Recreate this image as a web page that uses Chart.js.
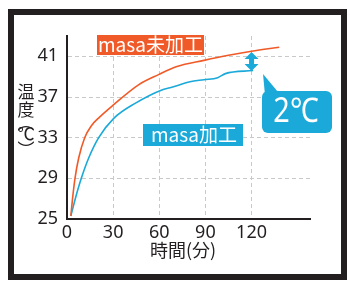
<!DOCTYPE html>
<html>
<head>
<meta charset="utf-8">
<script src="https://cdn.jsdelivr.net/npm/chart.js@4"></script>
<style>
  html, body { margin: 0; padding: 0; background: #fff; }
  #wrap { width: 350px; height: 282px; }
</style>
</head>
<body>
<div id="wrap"><canvas id="tempChart"></canvas></div>
<script>
// 時間(分) と 温度(℃)
const timeRaw = [2.5, 3.6, 5.2, 7.6, 11.5, 16, 21, 30, 46.5, 59.5, 71.5, 89, 105, 120, 138];
const tempRaw = [25.3, 27, 29, 31, 33, 34.2, 35, 36.2, 38.2, 39.2, 40, 40.6, 41.1, 41.5, 41.9];
const timeProc = [2.5, 5.4, 9.3, 14.1, 20.6, 30.4, 44, 61.7, 67, 80, 89, 98, 103, 121];
const tempProc = [25.3, 27, 29, 31, 33, 34.9, 36.35, 37.7, 37.9, 38.5, 38.7, 38.9, 39.3, 39.6];

const xTickValues = [0, 30, 60, 90, 120];
const yTickValues = [25, 27, 29, 31, 33, 35, 37, 39, 41];
const yTickLabels = [25, 29, 33, 37, 41];

const labelRaw = 'masa未加工';
const labelProc = 'masa加工';
const diffText = '2℃';
const xTitle = '時間(分)';
const yTitle = ['温', '度', '︵', '℃', '︶'];

const ORANGE = '#f05a28';
const BLUE = '#1aa9d8';
const INK = '#231f20';
const JP = "'Noto Sans CJK JP', 'Noto Sans', sans-serif";
const NUM = "'Noto Sans', 'Open Sans', sans-serif";

function toPoints(xs, ys) {
  return xs.map((x, i) => ({ x: x, y: ys[i] }));
}

const decorations = {
  id: 'decorations',
  beforeDraw(chart) {
    const ctx = chart.ctx;
    ctx.save();
    ctx.fillStyle = '#fff';
    ctx.fillRect(0, 0, chart.width, chart.height);
    // 枠
    ctx.strokeStyle = INK;
    ctx.lineWidth = 6;
    ctx.strokeRect(11, 12, 333, 265);
    ctx.restore();
  },
  afterDraw(chart) {
    const ctx = chart.ctx;
    ctx.save();

    // 縦軸タイトル
    ctx.fillStyle = INK;
    ctx.font = '17px ' + JP;
    ctx.textAlign = 'center';
    ctx.textBaseline = 'middle';
    const ys = [92, 110, 123, 134, 150];
    yTitle.forEach((ch, i) => ctx.fillText(ch, 26, ys[i]));

    // 横軸タイトル
    ctx.font = '18px ' + JP;
    ctx.fillText(xTitle, 183, 250);

    // masa未加工
    ctx.fillStyle = ORANGE;
    ctx.fillRect(97, 35, 107, 20);
    ctx.fillStyle = '#fff';
    ctx.font = '19px ' + JP;
    ctx.textAlign = 'left';
    ctx.textBaseline = 'middle';
    ctx.fillText(labelRaw, 98, 45);

    // masa加工
    ctx.fillStyle = BLUE;
    ctx.fillRect(143, 124, 100, 22);
    ctx.fillStyle = '#fff';
    ctx.fillText(labelProc, 151, 135);

    // 差の矢印
    const ax = chart.scales.x.getPixelForValue(120);
    ctx.fillStyle = BLUE;
    ctx.beginPath();
    ctx.moveTo(ax, 52);
    ctx.lineTo(ax + 7, 59);
    ctx.lineTo(ax + 2.5, 59);
    ctx.lineTo(ax + 2.5, 64);
    ctx.lineTo(ax + 7, 64);
    ctx.lineTo(ax, 71);
    ctx.lineTo(ax - 7, 64);
    ctx.lineTo(ax - 2.5, 64);
    ctx.lineTo(ax - 2.5, 59);
    ctx.lineTo(ax - 7, 59);
    ctx.closePath();
    ctx.fill();

    // 吹き出し
    ctx.beginPath();
    ctx.roundRect(262, 91, 70, 42, 6);
    ctx.fill();
    ctx.beginPath();
    ctx.moveTo(263, 74);
    ctx.lineTo(265, 95);
    ctx.lineTo(278, 92);
    ctx.closePath();
    ctx.fill();
    ctx.fillStyle = '#fff';
    ctx.font = '34px ' + NUM;
    ctx.textAlign = 'center';
    ctx.translate(296, 112);
    ctx.scale(0.85, 1);
    ctx.fillText(diffText, 0, 0);
    ctx.restore();
  }
};

const ctx = document.getElementById('tempChart').getContext('2d');
new Chart(ctx, {
  type: 'line',
  data: {
    datasets: [
      {
        label: labelRaw,
        data: toPoints(timeRaw, tempRaw),
        borderColor: ORANGE,
        borderWidth: 1.6,
        pointRadius: 0,
        cubicInterpolationMode: 'monotone'
      },
      {
        label: labelProc,
        data: toPoints(timeProc, tempProc),
        borderColor: BLUE,
        borderWidth: 1.6,
        pointRadius: 0,
        cubicInterpolationMode: 'monotone'
      }
    ]
  },
  options: {
    responsive: true,
    maintainAspectRatio: false,
    animation: false,
    layout: { padding: { top: 36, right: 40, left: 0, bottom: 0 } },
    plugins: {
      legend: { display: false },
      tooltip: { enabled: false }
    },
    scales: {
      x: {
        type: 'linear',
        min: 0,
        max: 158,
        afterFit: s => { s.height = 63; },
        afterBuildTicks: s => { s.ticks = xTickValues.map(v => ({ value: v })); },
        grid: {
          drawTicks: false,
          color: c => (c.tick && c.tick.value === 0) ? 'rgba(0,0,0,0)' : '#c9c9c9',
          lineWidth: 1
        },
        border: { display: true, color: INK, width: 2, dash: [4, 3] },
        ticks: {
          padding: 3,
          color: INK,
          font: { family: NUM, size: 18 },
          maxRotation: 0
        }
      },
      y: {
        min: 25,
        max: 43,
        afterFit: s => { s.width = 67; },
        afterBuildTicks: s => { s.ticks = yTickValues.map(v => ({ value: v })); },
        grid: {
          drawTicks: false,
          color: c => (c.tick && c.tick.value === 25) ? 'rgba(0,0,0,0)' : '#c9c9c9',
          lineWidth: 1
        },
        border: { display: true, color: INK, width: 2, dash: [4, 3] },
        ticks: {
          padding: 9,
          color: INK,
          font: { family: NUM, size: 18 },
          callback: v => yTickLabels.includes(v) ? String(v) : ''
        }
      }
    }
  },
  plugins: [decorations]
});
</script>
</body>
</html>
